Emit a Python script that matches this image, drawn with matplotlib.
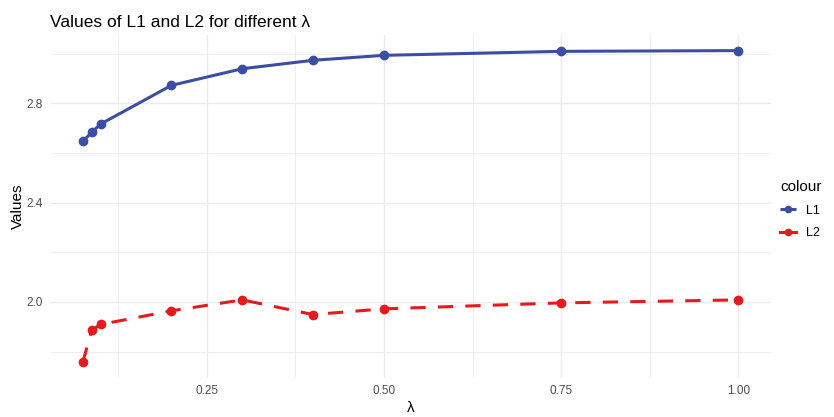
import matplotlib.pyplot as plt
import numpy as np

plt.rcParams["font.family"] = ["Liberation Sans", "DejaVu Sans"]

# lambda values and the two loss series
lam = [0.075, 0.0875, 0.1, 0.2, 0.3, 0.4, 0.5, 0.75, 1.0]
l1 = [2.646, 2.683, 2.716, 2.872, 2.939, 2.973, 2.993, 3.009, 3.012]
l2 = [1.757, 1.886, 1.909, 1.964, 2.008, 1.949, 1.972, 1.996, 2.008]

x_major = [0.25, 0.50, 0.75, 1.00]
x_minor = [0.125, 0.375, 0.625, 0.875]
y_major = [2.0, 2.4, 2.8]
y_minor = [1.8, 2.2, 2.6, 3.0]

blue = "#3a4ea2"
red = "#e41a1c"
grid_col = "#ebebeb"
text_col = "#4d4d4d"

fig = plt.figure(figsize=(8.34, 4.17), dpi=100)
ax = fig.add_axes([0.06, 0.094, 0.8645, 0.822])

ax.plot(lam, l1, color=blue, lw=2.2, marker="o", ms=6, label="L1",
        solid_capstyle="butt", zorder=3)
ax.plot(lam, l2, color=red, lw=2.2, marker="o", ms=6, label="L2",
        dashes=(5, 4), zorder=3)

# ggplot-style 5% expansion
xr = max(lam) - min(lam)
ax.set_xlim(min(lam) - 0.05 * xr, max(lam) + 0.05 * xr)
lo, hi = min(l1 + l2), max(l1 + l2)
ax.set_ylim(lo - 0.05 * (hi - lo), hi + 0.05 * (hi - lo))

ax.set_xticks(x_major)
ax.set_xticklabels(["0.25", "0.50", "0.75", "1.00"])
ax.set_xticks(x_minor, minor=True)
ax.set_yticks(y_major)
ax.set_yticklabels(["2.0", "2.4", "2.8"])
ax.set_yticks(y_minor, minor=True)

ax.grid(which="major", color=grid_col, lw=1.0)
ax.grid(which="minor", color=grid_col, lw=0.6)
ax.set_axisbelow(True)
for s in ax.spines.values():
    s.set_visible(False)
ax.tick_params(which="both", length=0, labelsize=8.5, labelcolor=text_col, pad=5)

ax.set_xlabel("λ", fontsize=11, labelpad=3)
ax.set_ylabel("Values", fontsize=11, labelpad=1)
ax.set_title("Values of L1 and L2 for different λ", loc="left", fontsize=12.5, pad=6)

leg = fig.legend(loc="upper left", bbox_to_anchor=(0.922, 0.595), frameon=False,
                 title="colour", fontsize=9, title_fontsize=11, handlelength=1.3,
                 handletextpad=0.8, labelspacing=0.85, alignment="left",
                 markerscale=0.75)
for h in leg.legend_handles:
    h.set_linestyle("-")

fig.savefig("out.png", dpi=100)
